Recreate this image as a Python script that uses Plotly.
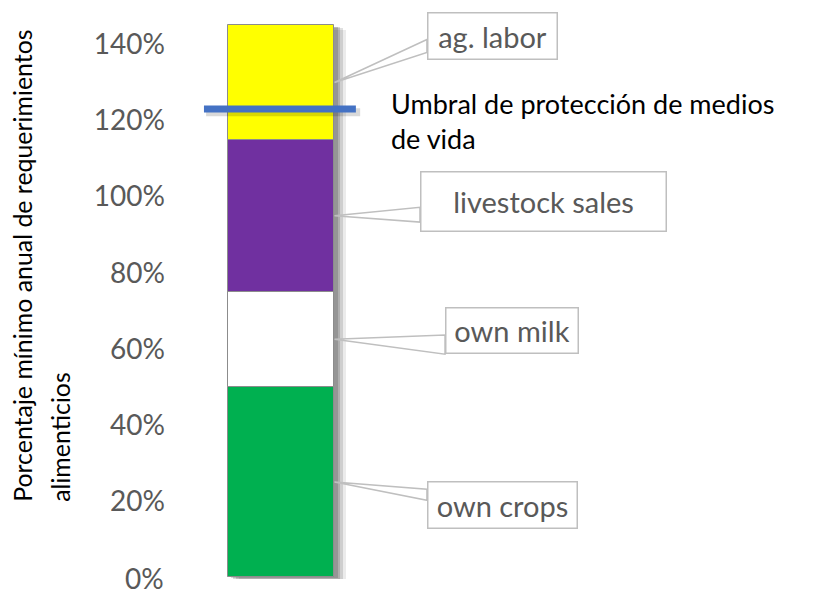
import plotly.graph_objects as go

# data (percent of annual food needs)
categories = ["own crops", "own milk", "livestock sales", "ag. labor"]
values = [50, 25, 40, 30]
colors = ["#00B050", "#FFFFFF", "#7030A0", "#FFFF00"]
threshold = 123
threshold_label = "Umbral de protección de medios<br>de vida"
tick_vals = [0, 20, 40, 60, 80, 100, 120, 140]
tick_text = [f"{v}%" for v in tick_vals]
y_title = ["Porcentaje mínimo anual de requerimientos", "alimenticios"]

FONT = "Lato"
TICK_FONT = dict(family=FONT, size=28, color="#595959")
bases = [sum(values[:i]) for i in range(len(values))]
total = sum(values)
half = 0.5

fig = go.Figure()

# soft drop shadow behind the bar
for shift, op in zip([0.11, 0.08, 0.05, 0.03], [0.08, 0.12, 0.15, 0.15]):
    fig.add_trace(go.Bar(
        x=[0], y=[total], base=[-shift * 10], width=1.0, offset=-0.5 + shift,
        marker=dict(color=f"rgba(0,0,0,{op})", line=dict(width=0)),
        hoverinfo="skip", showlegend=False,
    ))

for cat, val, base, col in zip(categories, values, bases, colors):
    fig.add_trace(go.Bar(
        x=[0], y=[val], base=[base], width=1.0, offset=-0.5, name=cat,
        marker=dict(color=col, line=dict(color="#8c8c8c", width=1)),
        showlegend=False,
    ))

# threshold line (with a faint shadow)
fig.add_trace(go.Scatter(
    x=[-0.70, 0.74], y=[threshold - 0.8, threshold - 0.8], mode="lines",
    line=dict(color="rgba(0,0,0,0.15)", width=8), hoverinfo="skip", showlegend=False,
))
fig.add_trace(go.Scatter(
    x=[-0.72, 0.70], y=[threshold, threshold], mode="lines",
    line=dict(color="#4472C4", width=7), showlegend=False,
))

# callout boxes: left x, centre y, width px, height px, wedge top y, wedge bottom y
boxes = {
    "ag. labor": (1.364, 142.1, 131, 48, 141.3, 137.9),
    "livestock sales": (1.299, 98.6, 247, 61, 97.2, 93.3),
    "own milk": (1.533, 64.75, 134, 47, 63.6, 58.6),
    "own crops": (1.364, 18.9, 151, 48, 23.1, 20.2),
}

for cat, val, base in zip(categories, values, bases):
    bx, by, bw, bh, wt, wb = boxes[cat]
    mid = base + val / 2
    fig.add_shape(
        type="path",
        path=f"M {half},{mid} L {bx},{wt} L {bx},{wb} Z",
        xref="x", yref="y", fillcolor="white",
        line=dict(color="#bfbfbf", width=1.5), layer="above",
    )
    fig.add_annotation(
        x=bx, y=by, xref="x", yref="y", xanchor="left", yanchor="middle",
        text=cat, showarrow=False, width=bw - 3, height=bh - 3, borderpad=0,
        bordercolor="#bfbfbf", borderwidth=1.5, bgcolor="white", align="center",
        font=dict(family=FONT, size=29, color="#595959"),
    )

fig.add_annotation(
    x=1.01, y=120, xref="x", yref="y", xanchor="left", yanchor="middle",
    text=threshold_label, showarrow=False, align="left",
    font=dict(family=FONT, size=27, color="#000000"),
)

# bottom tick label sits at the page edge, so it is drawn as a short annotation
fig.add_annotation(
    x=-0.014, y=tick_vals[0], xref="paper", yref="y", xanchor="right", yanchor="middle",
    text=tick_text[0], showarrow=False, height=25, valign="middle", borderpad=0,
    font=TICK_FONT,
)

# two-line rotated axis title
for xp, line in zip([-0.236, -0.177], y_title):
    fig.add_annotation(
        x=xp, y=0.133, xref="paper", yref="paper", xanchor="center", yanchor="bottom",
        text=line, textangle=-90, showarrow=False,
        font=dict(family=FONT, size=24.9, color="#000000"),
    )

# the page body adds an 8px offset, so the figure is drawn 8px smaller
fig.update_layout(
    width=815, height=582,
    margin=dict(l=166, r=5, t=6, b=11),
    paper_bgcolor="white", plot_bgcolor="white",
    barmode="overlay", bargap=0,
    font=dict(family=FONT),
)
fig.update_xaxes(range=[-1, 5.019], visible=False)
fig.update_yaxes(
    range=[-0.5, 148], tickvals=tick_vals[1:], ticktext=tick_text[1:],
    showgrid=False, zeroline=False, showline=False, ticks="",
    ticklabelstandoff=8, tickfont=TICK_FONT,
)

fig.write_html("out.html")
